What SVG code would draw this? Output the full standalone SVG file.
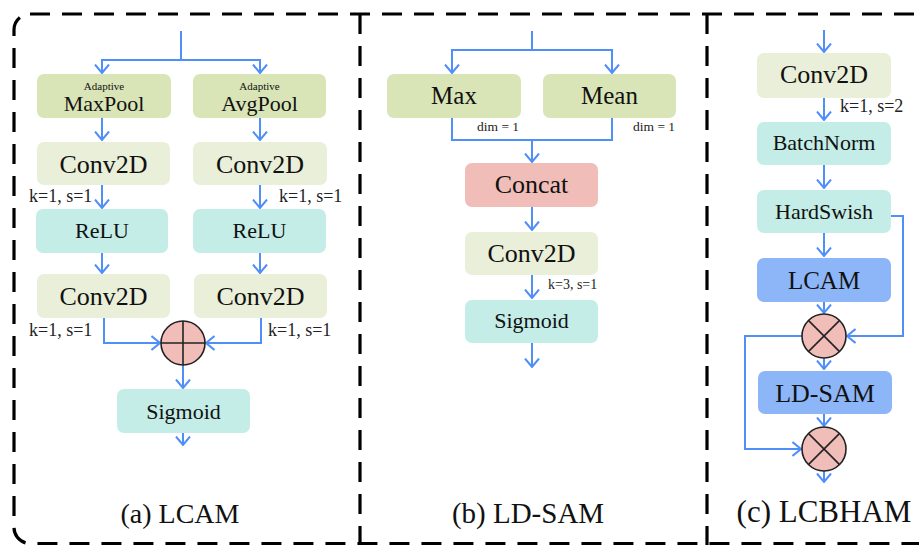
<svg xmlns="http://www.w3.org/2000/svg" width="919" height="545" viewBox="0 0 919 545">
<defs>
<style>
.fr{fill:none;stroke:#000;stroke-width:3.2;stroke-dasharray:20 12}
.ol{fill:#d9e5b7}
.cv{fill:#e9efd9}
.tl{fill:#c3ede6}
.pk{fill:#f0bdb8}
.bl{fill:#8cb6f7}
.t{fill:#111;text-anchor:middle}
.s{fill:#222}
.ar{fill:none;stroke:#4f8ff7;stroke-width:2;marker-end:url(#ah)}
.ln{fill:none;stroke:#4f8ff7;stroke-width:2}
.op{fill:#f0bdb8;stroke:#222;stroke-width:1.6}
.cr{stroke:#222;stroke-width:1.6}
</style>
<marker id="ah" viewBox="0 0 10 16" refX="9" refY="8" markerWidth="10" markerHeight="16" markerUnits="userSpaceOnUse" orient="auto">
<path d="M0.5,1 L9,8 L0.5,15" fill="none" stroke="#4f8ff7" stroke-width="2"/>
</marker>
</defs>
<rect width="919" height="545" fill="#fff"/>
<g id="frame">
<rect class="fr" x="14" y="14" width="940" height="529.5" rx="16"/>
<line class="fr" x1="360" y1="14" x2="360" y2="545"/>
<line class="fr" x1="707" y1="14" x2="707" y2="545"/>
</g>
<g id="connectors">
<path class="ln" d="M181,31 V60"/>
<path class="ar" d="M181,60 H102 V73"/>
<path class="ar" d="M181,60 H260 V73"/>
<path class="ar" d="M102,118 V140"/>
<path class="ar" d="M260,118 V140"/>
<path class="ar" d="M102,185 V208"/>
<path class="ar" d="M260,185 V208"/>
<path class="ar" d="M102,253 V273"/>
<path class="ar" d="M260,253 V273"/>
<path class="ar" d="M104,318 V343 H160"/>
<path class="ar" d="M261,318 V343 H206"/>
<path class="ar" d="M183,365 V388"/>
<path class="ar" d="M183,433 V445"/>
<path class="ln" d="M532,31 V50"/>
<path class="ar" d="M532,50 H452 V73"/>
<path class="ar" d="M532,50 H612 V73"/>
<path class="ln" d="M452,118 V140 H612 V118"/>
<path class="ar" d="M532,140 V162"/>
<path class="ar" d="M532,207 V230"/>
<path class="ar" d="M532,275 V298"/>
<path class="ar" d="M532,343 V367"/>
<path class="ar" d="M824,30 V52"/>
<path class="ar" d="M824,98 V120"/>
<path class="ar" d="M824,165 V188"/>
<path class="ar" d="M824,233 V256"/>
<path class="ar" d="M824,302 V313"/>
<path class="ar" d="M891,216 H903 V336 H847"/>
<path class="ar" d="M802,336 H745 V449 H801"/>
<path class="ar" d="M824,358 V369"/>
<path class="ar" d="M824,414 V426"/>
<path class="ar" d="M824,471 V482"/>
</g>
<g font-family="'Liberation Serif', Tinos, 'Times New Roman', 'DejaVu Serif', serif">
<g id="a-maxpool"><rect class="ol" x="37" y="74" width="134" height="44" rx="7"/><text class="t" x="104" y="90" font-size="11">Adaptive</text><text class="t" x="104" y="111" font-size="22">MaxPool</text></g>
<g id="a-avgpool"><rect class="ol" x="193" y="74" width="133" height="44" rx="7"/><text class="t" x="259.5" y="90" font-size="11">Adaptive</text><text class="t" x="259.5" y="111" font-size="22">AvgPool</text></g>
<g id="a-conv1l"><rect class="cv" x="37" y="142" width="133" height="43" rx="7"/><text class="t" x="103.5" y="173" font-size="26">Conv2D</text></g>
<g id="a-conv1r"><rect class="cv" x="193" y="142" width="134" height="43" rx="7"/><text class="t" x="260" y="173" font-size="26">Conv2D</text></g>
<text class="s" x="29" y="202" font-size="18">k=1, s=1</text>
<text class="s" x="279" y="202" font-size="18">k=1, s=1</text>
<g id="a-relul"><rect class="tl" x="36" y="209" width="132" height="44" rx="7"/><text class="t" x="102" y="238" font-size="22">ReLU</text></g>
<g id="a-relur"><rect class="tl" x="193" y="209" width="133" height="44" rx="7"/><text class="t" x="259.5" y="238" font-size="22">ReLU</text></g>
<g id="a-conv2l"><rect class="cv" x="37" y="274" width="133" height="44" rx="7"/><text class="t" x="103.5" y="305" font-size="26">Conv2D</text></g>
<g id="a-conv2r"><rect class="cv" x="194" y="274" width="133" height="44" rx="7"/><text class="t" x="260.5" y="305" font-size="26">Conv2D</text></g>
<text class="s" x="29" y="336" font-size="18">k=1, s=1</text>
<text class="s" x="268" y="336" font-size="18">k=1, s=1</text>
<g id="a-add"><circle class="op" cx="183" cy="343" r="22"/><line class="cr" x1="161" y1="343" x2="205" y2="343"/><line class="cr" x1="183" y1="321" x2="183" y2="365"/></g>
<g id="a-sigmoid"><rect class="tl" x="117" y="389" width="133" height="44" rx="7"/><text class="t" x="183.5" y="419" font-size="22">Sigmoid</text></g>
<text class="t" x="180" y="523" font-size="28">(a) LCAM</text>
<g id="b-max"><rect class="ol" x="387" y="74" width="134" height="44" rx="7"/><text class="t" x="454" y="104" font-size="25">Max</text></g>
<g id="b-mean"><rect class="ol" x="543" y="74" width="133" height="44" rx="7"/><text class="t" x="609.5" y="104" font-size="25">Mean</text></g>
<text class="s" x="477" y="131" font-size="13.5">dim = 1</text>
<text class="s" x="633" y="131" font-size="13.5">dim = 1</text>
<g id="b-concat"><rect class="pk" x="465" y="163" width="133" height="44" rx="7"/><text class="t" x="531.5" y="193" font-size="26">Concat</text></g>
<g id="b-conv"><rect class="cv" x="465" y="232" width="133" height="43" rx="7"/><text class="t" x="531.5" y="262" font-size="26">Conv2D</text></g>
<text class="s" x="548" y="289" font-size="14">k=3, s=1</text>
<g id="b-sigmoid"><rect class="tl" x="465" y="300" width="133" height="43" rx="7"/><text class="t" x="531.5" y="328" font-size="22">Sigmoid</text></g>
<text class="t" x="528" y="523" font-size="29">(b) LD-SAM</text>
<g id="c-conv"><rect class="cv" x="757" y="53" width="134" height="45" rx="7"/><text class="t" x="824" y="83" font-size="26">Conv2D</text></g>
<text class="s" x="840" y="112" font-size="18">k=1, s=2</text>
<g id="c-bn"><rect class="tl" x="757" y="122" width="134" height="43" rx="7"/><text class="t" x="824" y="150" font-size="22">BatchNorm</text></g>
<g id="c-hs"><rect class="tl" x="757" y="190" width="134" height="43" rx="7"/><text class="t" x="824" y="219" font-size="22">HardSwish</text></g>
<g id="c-lcam"><rect class="bl" x="757" y="258" width="134" height="44" rx="7"/><text class="t" x="824" y="289" font-size="25">LCAM</text></g>
<g id="c-mul1"><circle class="op" cx="824" cy="336" r="22"/><line class="cr" x1="808.4" y1="320.4" x2="839.6" y2="351.6"/><line class="cr" x1="839.6" y1="320.4" x2="808.4" y2="351.6"/></g>
<g id="c-ldsam"><rect class="bl" x="758" y="371" width="134" height="43" rx="7"/><text class="t" x="825" y="402" font-size="26">LD-SAM</text></g>
<g id="c-mul2"><circle class="op" cx="824" cy="449" r="22"/><line class="cr" x1="808.4" y1="433.4" x2="839.6" y2="464.6"/><line class="cr" x1="839.6" y1="433.4" x2="808.4" y2="464.6"/></g>
<text class="t" x="824" y="522" font-size="31">(c) LCBHAM</text>
</g>
</svg>
